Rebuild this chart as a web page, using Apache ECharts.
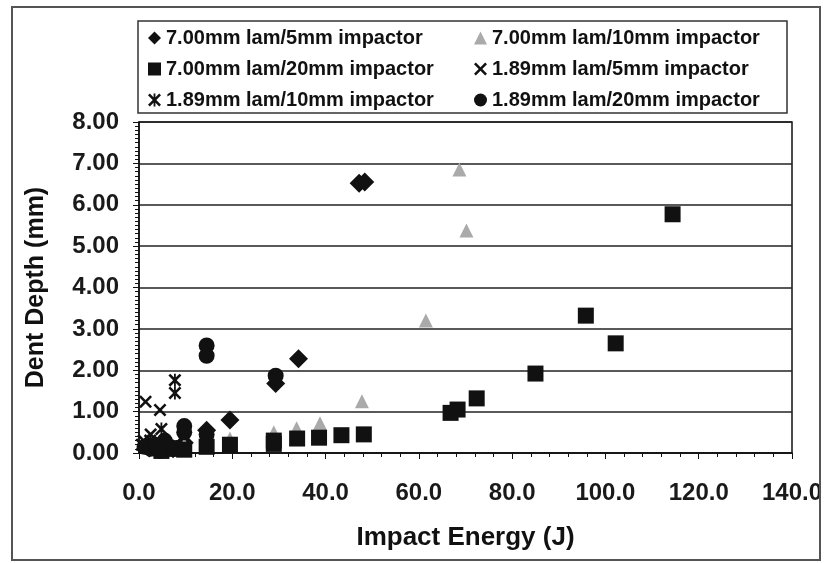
<!DOCTYPE html>
<html>
<head>
<meta charset="utf-8">
<script src="https://cdn.jsdelivr.net/npm/echarts@6/dist/echarts.min.js"></script>
<style>
html,body{margin:0;padding:0;background:#fff;}
#chart{width:829px;height:563px;}
</style>
</head>
<body>
<div id="chart"></div>
<script>
var seriesNames = ['7.00mm lam/5mm impactor', '7.00mm lam/10mm impactor', '7.00mm lam/20mm impactor',
	'1.89mm lam/5mm impactor', '1.89mm lam/10mm impactor', '1.89mm lam/20mm impactor'];

// [impact energy (J), dent depth (mm)]
var lam700imp5 = [[47.2, 6.52], [48.4, 6.55], [34.2, 2.28], [29.3, 1.68], [19.5, 0.8], [14.5, 0.55],
	[9.7, 0.25], [4.8, 0.2], [2.2, 0.12], [7.3, 0.1]];
var lam700imp10 = [[68.7, 6.85], [70.2, 5.38], [61.5, 3.2], [47.8, 1.25], [38.8, 0.72], [33.8, 0.6],
	[28.9, 0.5], [19.5, 0.35], [14.5, 0.3], [9.7, 0.2], [4.8, 0.1]];
var lam700imp20 = [[114.4, 5.77], [95.8, 3.32], [102.2, 2.65], [85.0, 1.92], [72.4, 1.32], [68.3, 1.05],
	[66.8, 0.97], [48.2, 0.45], [43.4, 0.43], [38.6, 0.37], [33.9, 0.35], [28.9, 0.22], [28.9, 0.3],
	[19.5, 0.2], [14.5, 0.15], [9.7, 0.08], [4.8, 0.05], [7.3, 0.1]];
var lam189imp5 = [[1.4, 1.24], [4.5, 1.04], [1.0, 0.3], [2.5, 0.45], [4.0, 0.25]];
var lam189imp10 = [[7.7, 1.76], [7.7, 1.45], [4.8, 0.58], [2.4, 0.3], [0.6, 0.2]];
var lam189imp20 = [[14.5, 2.6], [14.5, 2.35], [29.3, 1.87], [9.7, 0.65], [9.7, 0.5], [14.5, 0.45],
	[1.2, 0.15], [2.5, 0.1], [3.5, 0.2], [5.5, 0.3], [6.5, 0.15], [8.0, 0.12], [4.5, 0.05]];

var crossPath = 'path://M0,1.4L1.4,0L5,3.6L8.6,0L10,1.4L6.4,5L10,8.6L8.6,10L5,6.4L1.4,10L0,8.6L3.6,5Z';
var starPath = 'path://M0,1.4L1.4,0L5,3.6L8.6,0L10,1.4L6.4,5L10,8.6L8.6,10L5,6.4L1.4,10L0,8.6L3.6,5Z M4.3,0L5.7,0L5.7,10L4.3,10Z';

var myChart = echarts.init(document.getElementById('chart'));
var font = 'Liberation Sans, Arial, sans-serif';

function sc(name, data, symbol, size, color) {
	return {
		name: name,
		type: 'scatter',
		data: data,
		symbol: symbol,
		symbolSize: size,
		itemStyle: { color: color, opacity: 1 },
		emphasis: { disabled: true }
	};
}

var legendText = { color: '#111', fontSize: 20, fontWeight: 'bold', fontFamily: font };

var option = {
	backgroundColor: '#fff',
	animation: false,
	grid: {
		left: 139, right: 37, top: 122, bottom: 110,
		show: true, borderColor: '#111', borderWidth: 1.5, backgroundColor: '#fff'
	},
	legend: [{
		data: [seriesNames[0], seriesNames[2], seriesNames[4]],
		orient: 'vertical', left: 148, top: 28, itemGap: 11,
		itemWidth: 13, itemHeight: 13, textStyle: legendText, padding: 0
	}, {
		data: [seriesNames[1], seriesNames[3], seriesNames[5]],
		orient: 'vertical', left: 474, top: 28, itemGap: 11,
		itemWidth: 13, itemHeight: 13, textStyle: legendText, padding: 0
	}],
	graphic: [{
		type: 'rect', shape: { x: 12, y: 7, width: 808, height: 553 },
		style: { fill: null, stroke: '#555', lineWidth: 2 }, z: 100
	}, {
		type: 'rect', shape: { x: 138, y: 21, width: 649, height: 92 },
		style: { fill: null, stroke: '#333', lineWidth: 1.5 }, z: 100
	}],
	xAxis: {
		type: 'value', min: 0, max: 140, interval: 20,
		name: 'Impact Energy (J)', nameLocation: 'middle', nameGap: 72,
		nameTextStyle: { fontSize: 26, fontWeight: 'bold', color: '#111', fontFamily: font },
		axisLine: { show: true, lineStyle: { color: '#111', width: 1.5 } },
		axisTick: { show: true, length: 6, lineStyle: { color: '#111' } },
		minorTick: { show: true, splitNumber: 5, length: 4, lineStyle: { color: '#111' } },
		axisLabel: {
			margin: 28, fontSize: 24, fontWeight: 'bold', color: '#1a1a1a', fontFamily: font,
			formatter: function (v) { return v.toFixed(1); }
		},
		splitLine: { show: false }
	},
	yAxis: {
		type: 'value', min: 0, max: 8, interval: 1,
		name: 'Dent Depth (mm)', nameLocation: 'middle', nameGap: 90,
		nameTextStyle: { fontSize: 25, fontWeight: 'bold', color: '#111', fontFamily: font },
		axisLine: { show: true, lineStyle: { color: '#111', width: 1.5 } },
		axisTick: { show: true, length: 6, lineStyle: { color: '#111' } },
		minorTick: { show: true, splitNumber: 10, length: 4, lineStyle: { color: '#111' } },
		axisLabel: {
			margin: 20, fontSize: 24, fontWeight: 'bold', color: '#1a1a1a', fontFamily: font,
			formatter: function (v) { return v.toFixed(2); }
		},
		splitLine: { show: true, lineStyle: { color: '#222', width: 1.5 } }
	},
	series: [
		sc(seriesNames[0], lam700imp5, 'diamond', 19, '#111'),
		sc(seriesNames[1], lam700imp10, 'triangle', 14, '#aaa'),
		sc(seriesNames[2], lam700imp20, 'rect', 16, '#111'),
		sc(seriesNames[3], lam189imp5, crossPath, 13, '#111'),
		sc(seriesNames[4], lam189imp10, starPath, 13, '#111'),
		sc(seriesNames[5], lam189imp20, 'circle', 16, '#111')
	]
};
myChart.setOption(option);
</script>
</body>
</html>
